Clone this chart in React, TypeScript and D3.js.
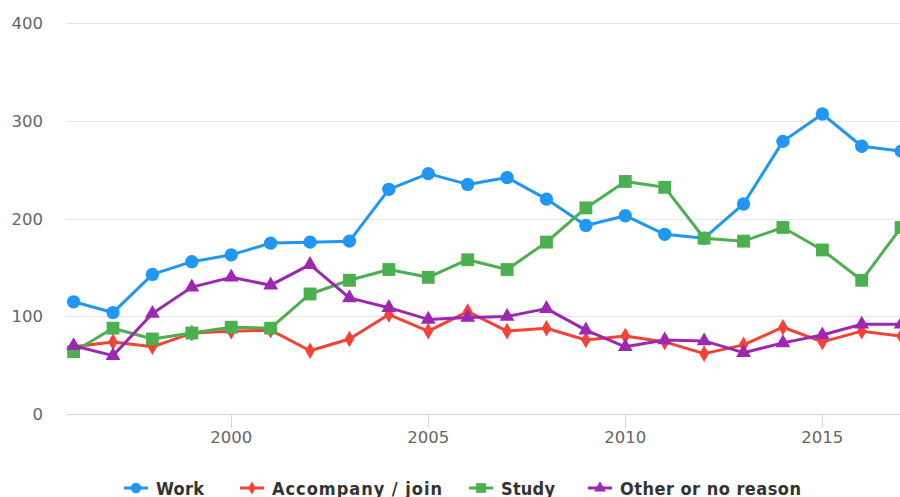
import React, { useEffect, useRef } from 'react'
import * as d3 from 'd3'

const years = [1996, 1997, 1998, 1999, 2000, 2001, 2002, 2003, 2004, 2005, 2006,
  2007, 2008, 2009, 2010, 2011, 2012, 2013, 2014, 2015, 2016, 2017]

const work = [115, 104, 143, 156, 163, 175, 176, 177, 230, 246, 235,
  242, 220, 193, 203, 184, 180, 215, 279, 307, 274, 269]
const accompany = [69, 74, 69, 83, 85, 86, 65, 77, 102, 85, 105,
  85, 88, 76, 80, 74, 62, 71, 89, 74, 85, 80]
const study = [64, 88, 77, 83, 89, 88, 123, 137, 148, 140, 158,
  148, 176, 211, 238, 232, 180, 177, 191, 168, 137, 191]
const other = [70, 60, 103, 130, 140, 132, 153, 119, 109, 97, 99,
  100, 108, 86, 69, 76, 75, 63, 73, 81, 92, 92]

const yTicks = [0, 100, 200, 300, 400]
const xTicks = [2000, 2005, 2010, 2015]

const series = [
  { name: 'Work', values: work, color: '#2196F3', symbol: d3.symbolCircle },
  { name: 'Accompany / join', values: accompany, color: '#F44336', symbol: d3.symbolDiamond },
  { name: 'Study', values: study, color: '#4CAF50', symbol: d3.symbolSquare },
  { name: 'Other or no reason', values: other, color: '#9C27B0', symbol: d3.symbolTriangle },
]

const width = 900, height = 497

export default function App() {
  const ref = useRef<SVGSVGElement>(null)

  useEffect(() => {
    const svg = d3.select(ref.current)
    svg.selectAll('*').remove()

    const x = d3.scaleLinear().domain([1995.825, 2017.25]).range([66.7, 911])
    const y = d3.scaleLinear().domain([0, 400]).range([414.3, 23])

    // grid
    svg.append('g')
      .selectAll('line')
      .data(yTicks.filter(d => d > 0))
      .join('line')
      .attr('x1', 66.7).attr('x2', width)
      .attr('y1', d => Math.round(y(d)) + 0.5).attr('y2', d => Math.round(y(d)) + 0.5)
      .attr('stroke', '#e6e6e6').attr('stroke-width', 1)

    // y labels
    svg.append('g')
      .selectAll('text')
      .data(yTicks)
      .join('text')
      .attr('x', 43).attr('y', d => y(d) + 6)
      .attr('text-anchor', 'end')
      .attr('fill', '#666666')
      .style('font-family', 'DejaVu Sans')
      .style('font-size', '16.5px')
      .text(d => d)

    // x axis
    const ax = svg.append('g')
    ax.append('line')
      .attr('x1', 66.7).attr('x2', width)
      .attr('y1', 414.5).attr('y2', 414.5)
      .attr('stroke', '#ccd6eb')
    ax.selectAll('line.tick')
      .data(xTicks)
      .join('line')
      .attr('class', 'tick')
      .attr('x1', d => Math.round(x(d)) + 0.5).attr('x2', d => Math.round(x(d)) + 0.5)
      .attr('y1', 414.5).attr('y2', 428)
      .attr('stroke', '#ccd6eb')
    ax.selectAll('text')
      .data(xTicks)
      .join('text')
      .attr('x', d => x(d)).attr('y', 443.3)
      .attr('text-anchor', 'middle')
      .attr('fill', '#666666')
      .style('font-family', 'DejaVu Sans')
      .style('font-size', '16.5px')
      .text(d => d)

    const line = d3.line<number>()
      .x((_, i) => x(years[i]))
      .y(d => y(d))

    series.forEach(s => {
      const g = svg.append('g')
      g.append('path')
        .attr('d', line(s.values))
        .attr('fill', 'none')
        .attr('stroke', s.color)
        .attr('stroke-width', 3)
        .attr('stroke-linejoin', 'round')
      const size = s.symbol === d3.symbolCircle ? 140 : s.symbol === d3.symbolSquare ? 165 : s.symbol === d3.symbolDiamond ? 80 : 95
      g.selectAll('path.m')
        .data(s.values)
        .join('path')
        .attr('class', 'm')
        .attr('transform', (d, i) => `translate(${x(years[i])},${y(d)})`)
        .attr('d', d3.symbol().type(s.symbol).size(size)())
        .attr('fill', s.color)
    })

    // legend
    const legendX = [124, 240, 469, 588]
    const legendW = [48, 170, 54, 181]
    const ly = 488
    series.forEach((s, i) => {
      const g = svg.append('g').attr('transform', `translate(${legendX[i]},${ly})`)
      g.append('line')
        .attr('x1', 0).attr('x2', 24)
        .attr('y1', 0).attr('y2', 0)
        .attr('stroke', s.color).attr('stroke-width', 3)
      const size = s.symbol === d3.symbolCircle ? 85 : s.symbol === d3.symbolSquare ? 95 : s.symbol === d3.symbolDiamond ? 50 : 60
      g.append('path')
        .attr('transform', 'translate(12,0)')
        .attr('d', d3.symbol().type(s.symbol).size(size)())
        .attr('fill', s.color)
      g.append('text')
        .attr('x', 32).attr('y', 6.5)
        .attr('fill', '#333333')
        .attr('textLength', legendW[i])
        .attr('lengthAdjust', 'spacing')
        .style('font-family', 'DejaVu Sans Condensed, DejaVu Sans')
        .style('font-weight', 'bold')
        .style('font-stretch', 'condensed')
        .style('font-size', '18px')
        .text(s.name)
    })
  }, [])

  return (
    <svg ref={ref} width={width} height={height}
      style={{ position: 'absolute', left: 0, top: 0, background: '#ffffff' }} />
  )
}
